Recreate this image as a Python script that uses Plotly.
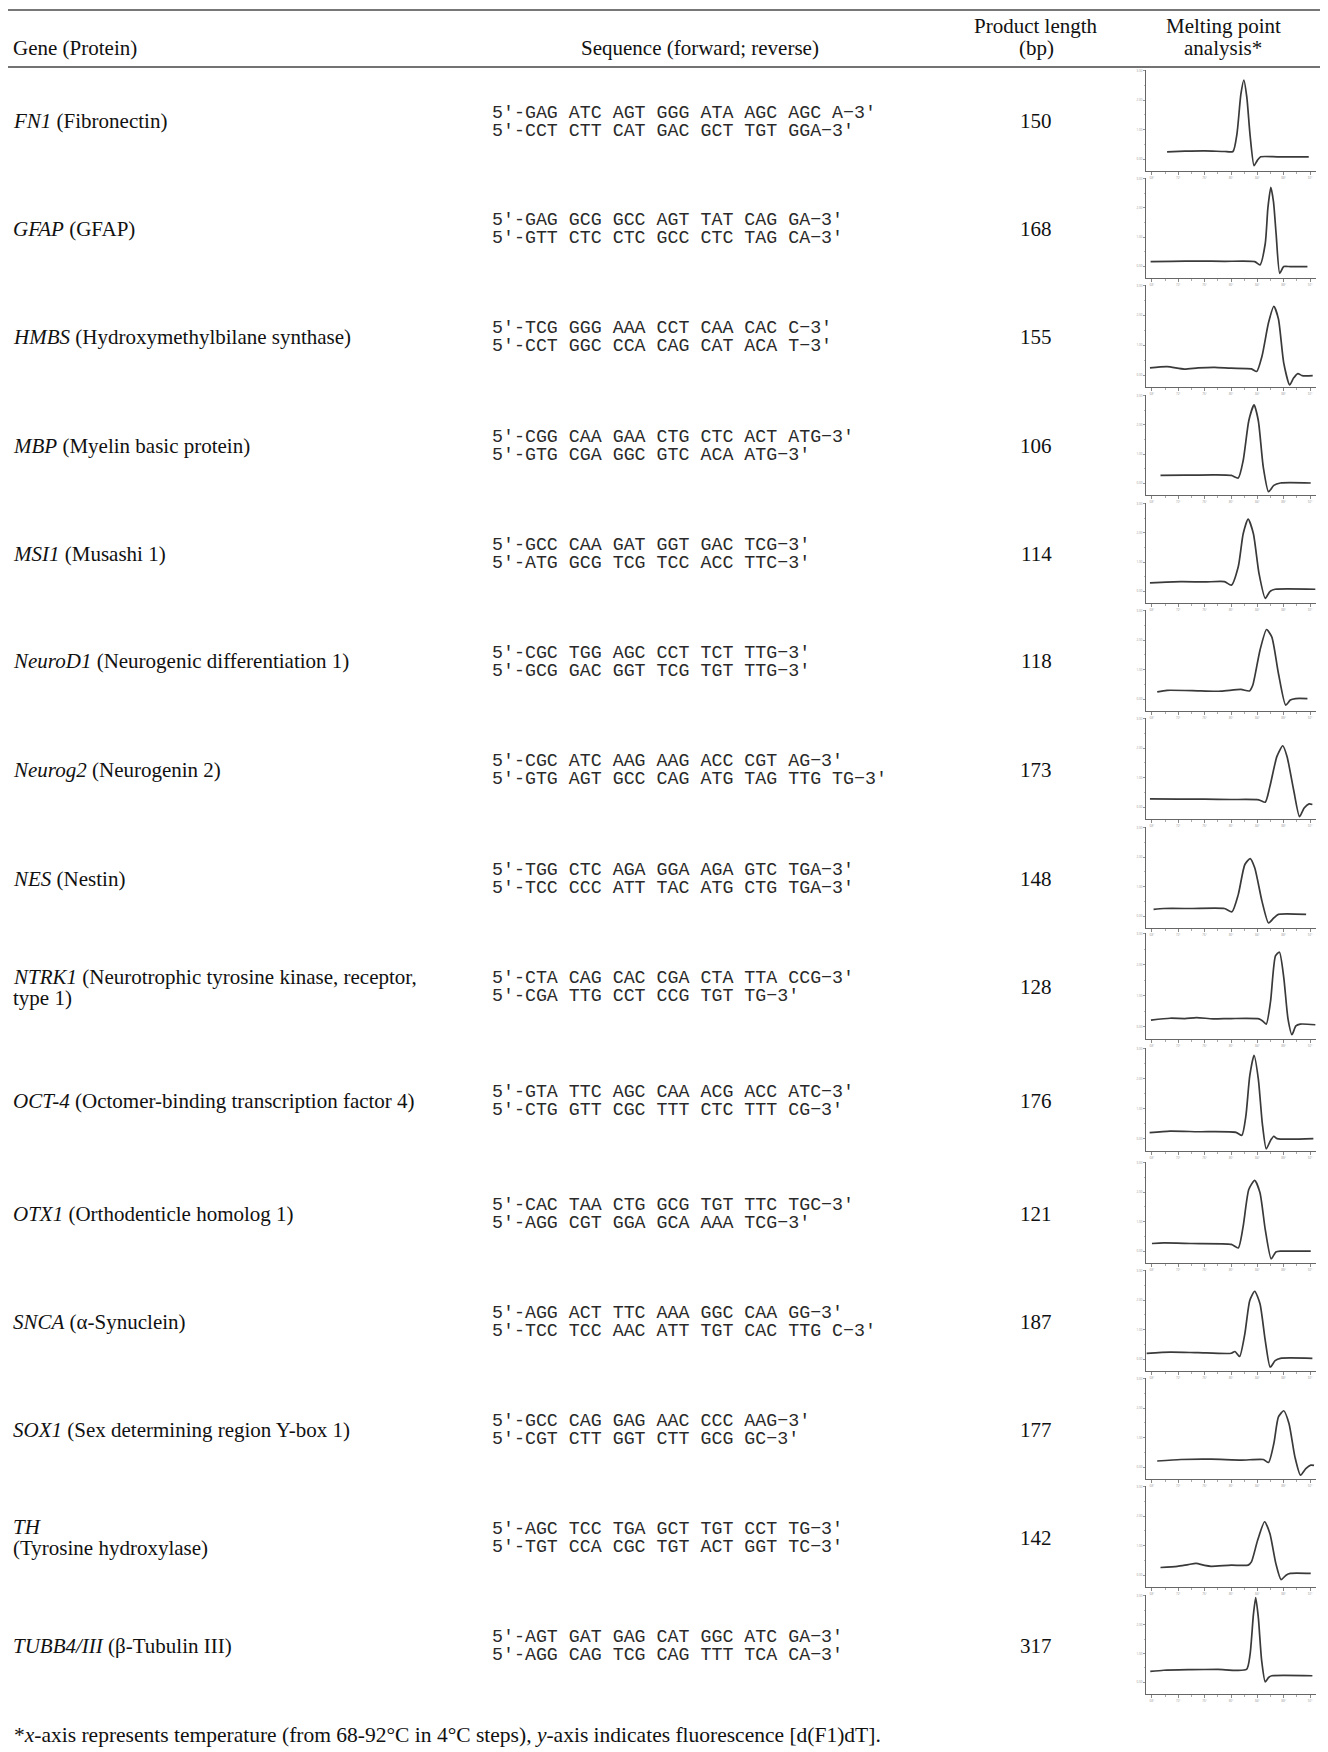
import plotly.graph_objects as go

W, H = 1328, 1752
OFF = 8  # default page body margin that shifts the figure
FW, FH = W - OFF, H - OFF

genes = ["FN1", "GFAP", "HMBS", "MBP", "MSI1", "NeuroD1", "Neurog2", "NES",
         "NTRK1", "OCT-4", "OTX1", "SNCA", "SOX1", "TH", "TUBB4/III"]
proteins = ["(Fibronectin)", "(GFAP)", "(Hydroxymethylbilane synthase)",
            "(Myelin basic protein)", "(Musashi 1)", "(Neurogenic differentiation 1)",
            "(Neurogenin 2)", "(Nestin)",
            "(Neurotrophic tyrosine kinase, receptor,|type 1)",
            "(Octomer-binding transcription factor 4)", "(Orthodenticle homolog 1)",
            "(\u03b1-Synuclein)", "(Sex determining region Y-box 1)",
            "|(Tyrosine hydroxylase)", "(\u03b2-Tubulin III)"]
forward = ["GAG ATC AGT GGG ATA AGC AGC A", "GAG GCG GCC AGT TAT CAG GA",
           "TCG GGG AAA CCT CAA CAC C", "CGG CAA GAA CTG CTC ACT ATG",
           "GCC CAA GAT GGT GAC TCG", "CGC TGG AGC CCT TCT TTG",
           "CGC ATC AAG AAG ACC CGT AG", "TGG CTC AGA GGA AGA GTC TGA",
           "CTA CAG CAC CGA CTA TTA CCG", "GTA TTC AGC CAA ACG ACC ATC",
           "CAC TAA CTG GCG TGT TTC TGC", "AGG ACT TTC AAA GGC CAA GG",
           "GCC CAG GAG AAC CCC AAG", "AGC TCC TGA GCT TGT CCT TG",
           "AGT GAT GAG CAT GGC ATC GA"]
reverse = ["CCT CTT CAT GAC GCT TGT GGA", "GTT CTC CTC GCC CTC TAG CA",
           "CCT GGC CCA CAG CAT ACA T", "GTG CGA GGC GTC ACA ATG",
           "ATG GCG TCG TCC ACC TTC", "GCG GAC GGT TCG TGT TTG",
           "GTG AGT GCC CAG ATG TAG TTG TG", "TCC CCC ATT TAC ATG CTG TGA",
           "CGA TTG CCT CCG TGT TG", "CTG GTT CGC TTT CTC TTT CG",
           "AGG CGT GGA GCA AAA TCG", "TCC TCC AAC ATT TGT CAC TTG C",
           "CGT CTT GGT CTT GCG GC", "TGT CCA CGC TGT ACT GGT TC",
           "AGG CAG TCG CAG TTT TCA CA"]
product_bp = [150, 168, 155, 106, 114, 118, 173, 148, 128, 176, 121, 187, 177, 142, 317]

temp_ticks = [68, 72, 76, 80, 84, 88, 92]
dfdt_ticks = [0, 1, 2, 3]

# melting curves: temperature (degC) and -d(F1)/dT (arbitrary units)
T_FN1 = [70.3, 73.0, 76.0, 79.0, 80.3, 80.9, 81.5, 81.95, 82.4, 82.9, 83.5, 84.0, 84.5, 87.0, 90.0, 91.8]
D_FN1 = [0.25, 0.27, 0.28, 0.26, 0.26, 0.85, 2.2, 2.68, 2.1, 0.8, -0.22, -0.04, 0.08, 0.08, 0.08, 0.08]
T_GFAP = [67.8, 71.0, 75.0, 79.0, 83.6, 84.4, 85.2, 85.6, 86.05, 86.45, 86.85, 87.4, 88.0, 89.0, 91.6]
D_GFAP = [0.16, 0.17, 0.18, 0.17, 0.16, 0.05, 0.78, 2.0, 2.7, 2.2, 1.1, -0.24, -0.01, -0.01, -0.01]
T_HMBS = [67.7, 70.3, 72.9, 75.0, 77.5, 80.0, 83.1, 83.9, 84.7, 85.7, 86.5, 87.2, 88.0, 88.9, 89.5, 90.15, 90.8, 92.4]
D_HMBS = [0.24, 0.28, 0.20, 0.24, 0.26, 0.23, 0.21, 0.12, 0.63, 1.76, 2.3, 1.88, 0.41, -0.33, -0.10, 0.05, -0.02, -0.02]
T_MBP = [69.3, 73.0, 77.5, 80.05, 81.1, 81.85, 82.7, 83.5, 84.15, 84.9, 85.7, 86.5, 87.5, 92.1]
D_MBP = [0.27, 0.28, 0.29, 0.27, 0.18, 0.78, 2.14, 2.68, 2.14, 0.55, -0.29, -0.07, 0.01, 0.01]
T_MSI1 = [67.7, 72.4, 76.0, 79.0, 80.05, 81.1, 81.85, 82.6, 83.4, 84.25, 85.2, 85.9, 86.7, 92.8]
D_MSI1 = [0.29, 0.33, 0.32, 0.33, 0.21, 0.84, 1.97, 2.47, 1.97, 0.61, -0.24, -0.01, 0.07, 0.07]
T_NEUROD1 = [68.8, 70.3, 75.4, 78.5, 81.5, 82.8, 83.3, 84.4, 85.4, 86.2, 87.2, 88.3, 89.0, 89.8, 91.6]
D_NEUROD1 = [0.25, 0.30, 0.28, 0.27, 0.33, 0.28, 0.47, 1.66, 2.36, 2.10, 0.87, -0.20, -0.03, 0.02, 0.02]
T_NEUROG2 = [67.7, 72.0, 76.0, 80.0, 84.2, 85.2, 85.9, 86.97, 87.85, 88.5, 89.5, 90.4, 91.1, 91.85, 92.35]
D_NEUROG2 = [0.28, 0.27, 0.27, 0.26, 0.25, 0.17, 0.70, 1.72, 2.08, 1.72, 0.59, -0.32, -0.03, 0.11, 0.09]
T_NES = [68.25, 69.8, 74.0, 79.0, 80.15, 81.1, 82.1, 82.9, 83.6, 84.7, 85.7, 86.5, 87.2, 91.4]
D_NES = [0.23, 0.26, 0.26, 0.26, 0.15, 0.73, 1.75, 1.95, 1.64, 0.51, -0.23, -0.06, 0.06, 0.06]
T_NTRK1 = [67.85, 70.75, 73.0, 74.75, 77.25, 80.0, 84.25, 84.75, 85.35, 86.0, 86.75, 87.35, 88.0, 88.65, 89.25, 89.85, 90.5, 92.8]
D_NTRK1 = [0.21, 0.27, 0.26, 0.29, 0.25, 0.26, 0.25, 0.19, 0.08, 0.81, 2.28, 2.40, 1.60, 0.25, -0.26, 0.02, 0.08, 0.06]
T_OCT4 = [67.65, 70.75, 75.0, 80.75, 81.65, 82.25, 82.85, 83.5, 84.15, 84.75, 85.35, 86.0, 86.5, 87.0, 92.5]
D_OCT4 = [0.21, 0.26, 0.24, 0.22, 0.12, 0.75, 2.10, 2.78, 1.99, 0.52, -0.33, -0.05, 0.09, 0.01, 0.01]
T_OTX1 = [68.0, 69.8, 74.0, 80.05, 81.1, 81.85, 82.7, 83.6, 84.4, 85.2, 86.1, 86.8, 87.5, 92.1]
D_OTX1 = [0.26, 0.28, 0.26, 0.23, 0.11, 0.85, 2.09, 2.40, 1.98, 0.73, -0.26, -0.03, 0.0, 0.0]
T_SNCA = [67.2, 70.8, 75.0, 80.05, 80.6, 81.3, 82.1, 82.85, 83.6, 84.4, 85.2, 85.95, 86.7, 87.5, 92.35]
D_SNCA = [0.20, 0.24, 0.22, 0.20, 0.26, 0.09, 0.86, 1.99, 2.30, 1.88, 0.63, -0.27, -0.05, 0.03, 0.03]
T_SOX1 = [68.8, 72.4, 77.0, 81.6, 84.9, 85.7, 86.5, 87.2, 88.0, 88.8, 89.7, 90.55, 91.35, 92.1, 92.6]
D_SOX1 = [0.21, 0.26, 0.27, 0.24, 0.26, 0.16, 0.80, 1.70, 1.91, 1.48, 0.35, -0.27, -0.05, 0.07, 0.06]
T_TH = [69.3, 71.85, 73.5, 74.7, 76.0, 77.0, 80.05, 82.6, 83.1, 84.05, 85.1, 85.9, 86.8, 87.6, 88.35, 89.0, 92.1]
D_TH = [0.26, 0.30, 0.36, 0.40, 0.33, 0.30, 0.34, 0.34, 0.45, 1.19, 1.81, 1.41, 0.40, -0.15, 0.00, 0.06, 0.06]
T_TUBB4 = [67.75, 69.8, 73.9, 78.0, 82.35, 82.9, 83.4, 83.75, 84.15, 84.65, 85.2, 85.7, 86.2, 92.35]
D_TUBB4 = [0.38, 0.42, 0.44, 0.45, 0.45, 0.98, 2.34, 2.93, 2.24, 0.76, 0.02, 0.17, 0.23, 0.23]

curves = [(T_FN1, D_FN1), (T_GFAP, D_GFAP), (T_HMBS, D_HMBS), (T_MBP, D_MBP),
          (T_MSI1, D_MSI1), (T_NEUROD1, D_NEUROD1), (T_NEUROG2, D_NEUROG2),
          (T_NES, D_NES), (T_NTRK1, D_NTRK1), (T_OCT4, D_OCT4), (T_OTX1, D_OTX1),
          (T_SNCA, D_SNCA), (T_SOX1, D_SOX1), (T_TH, D_TH), (T_TUBB4, D_TUBB4)]

# layout (page pixels)
panel_top = [70, 178, 285, 395, 503, 610, 718, 827, 933, 1048, 1162, 1270, 1378, 1486, 1595]
panel_bot = [171, 278, 387, 495, 603, 711, 819, 928, 1039, 1151, 1263, 1371, 1479, 1587, 1694]
panel_x0, panel_x1 = 1146, 1316

SERIF = "Liberation Serif, Times New Roman, serif"
MONO = "Liberation Mono, Courier New, monospace"
TXT = "#111111"

def px(x):
    return (x - OFF) / FW

def py(y):
    return 1 - (y - OFF) / FH

fig = go.Figure()
layout = {}
for i, ((T, D), top, bot) in enumerate(zip(curves, panel_top, panel_bot)):
    n = i + 1
    xa = "x" if n == 1 else f"x{n}"
    ya = "y" if n == 1 else f"y{n}"
    fig.add_trace(go.Scatter(x=T, y=D, mode="lines", xaxis=xa, yaxis=ya,
                             line=dict(color="#3a3a3a", width=1.7, shape="spline", smoothing=0.6),
                             hoverinfo="skip", showlegend=False))
    layout["xaxis" if n == 1 else f"xaxis{n}"] = dict(
        domain=[px(panel_x0), px(panel_x1)], anchor=ya, range=[67.1, 92.9],
        showline=True, linecolor="#666", linewidth=1, showgrid=False, zeroline=False,
        ticks="outside", ticklen=3, tickwidth=1, tickcolor="#888",
        tickvals=temp_ticks, ticktext=[f"{t}\u00b0" for t in temp_ticks],
        tickfont=dict(size=3, color="#999"),
        minor=dict(tick0=68, dtick=2, ticks="outside", ticklen=2, tickcolor="#aaa", showgrid=False),
        fixedrange=True)
    layout["yaxis" if n == 1 else f"yaxis{n}"] = dict(
        domain=[py(bot), py(top)], anchor=xa, range=[-0.4, 3.02],
        showline=True, linecolor="#666", linewidth=1, showgrid=False, zeroline=False,
        ticks="outside", ticklen=2, tickwidth=1, tickcolor="#999",
        tickvals=dfdt_ticks, ticktext=[f"{t:.2f}" for t in dfdt_ticks],
        tickfont=dict(size=3, color="#999"),
        minor=dict(tick0=0, dtick=0.5, ticks="outside", ticklen=1.5, tickcolor="#bbb", showgrid=False),
        fixedrange=True)

ann = []

def text(x, y, s, font, size, anchor="left", color=TXT):
    ann.append(dict(x=px(x), y=py(y), xref="paper", yref="paper", text=s, showarrow=False,
                    xanchor=anchor, yanchor="middle", align=anchor, borderpad=0,
                    font=dict(family=font, size=size, color=color)))

SZ = 21
MSZ = 18.3
# headers
text(12, 48, "Gene (Protein)", SERIF, SZ)
text(700, 48, "Sequence (forward; reverse)", SERIF, SZ, "center")
text(1036, 26, "Product length", SERIF, SZ, "center")
text(1036, 48, "(bp)", SERIF, SZ, "center")
text(1223, 26, "Melting point", SERIF, SZ, "center")
text(1223, 48, "analysis*", SERIF, SZ, "center")

for i in range(len(genes)):
    cy = (panel_top[i] + panel_bot[i]) / 2 + 1
    prot = proteins[i]
    if "|" in prot:
        first, second = prot.split("|")
        line1 = f"<i>{genes[i]}</i>" + (f" {first}" if first else "")
        text(12, cy - 10.5, line1, SERIF, SZ)
        text(12, cy + 10.5, second, SERIF, SZ)
    else:
        text(12, cy, f"<i>{genes[i]}</i> {prot}", SERIF, SZ)
    text(491, cy - 9, f"5\u2032-{forward[i]}\u22123\u2032", MONO, MSZ, color="#2a2a2a")
    text(491, cy + 9, f"5\u2032-{reverse[i]}\u22123\u2032", MONO, MSZ, color="#2a2a2a")
    text(1036, cy, str(product_bp[i]), SERIF, SZ, "center")

text(13, 1735, "*<i>x</i>-axis represents temperature (from 68-92\u00b0C in 4\u00b0C steps), "
     "<i>y</i>-axis indicates fluorescence [d(F1)dT].", SERIF, 21.5)

shapes = [
    dict(type="line", xref="paper", yref="paper", x0=0, x1=1, y0=py(10), y1=py(10),
         line=dict(color="#777", width=2)),
    dict(type="line", xref="paper", yref="paper", x0=0, x1=1, y0=py(67), y1=py(67),
         line=dict(color="#444", width=1.5)),
]

fig.update_layout(width=FW, height=FH, margin=dict(l=0, r=0, t=0, b=0),
                  paper_bgcolor="white", plot_bgcolor="white",
                  annotations=ann, shapes=shapes, showlegend=False, **layout)
fig.write_html("out.html")
